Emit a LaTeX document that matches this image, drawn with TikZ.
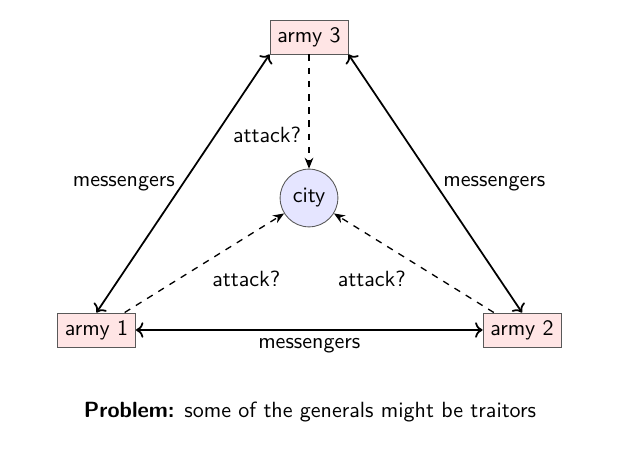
\documentclass[tikz,border=0pt]{standalone}
\usetikzlibrary{arrows.meta}
\begin{document}
\begin{tikzpicture}[x=0.4545pt,y=-0.4545pt,font=\sffamily,
  army/.style={draw=black!65,fill=red!10,rectangle},
  town/.style={draw=black!65,fill=blue!10,circle},
  msg/.style={thick,<->},
  atk/.style={semithick,dashed,-{Stealth[length=5pt,width=4pt]}}]
\useasboundingbox (0,0) rectangle (639,455);
\node[army] (a3) at (309,37) {army 3};
\node[army] (a1) at (96.5,330) {army 1};
\node[army] (a2) at (522,330) {army 2};
\node[town] (city) at (309,198) {city};
\node (prob) at (310,412) {\textbf{Problem:} some of the generals might be traitors};
\draw[msg] (a1.north) -- node[left] {messengers} (a3.south west);
\draw[msg] (a3.south east) -- node[right] {messengers} (a2.north);
\draw[msg] (a1) -- node[below] {messengers} (a2);
\draw[atk] (a3) -- node[pos=0.7,left] {attack?} (city);
\draw[atk] (a1) -- node[midway,below right] {attack?} (city);
\draw[atk] (a2) -- node[midway,below left] {attack?} (city);
\end{tikzpicture}
\end{document}
